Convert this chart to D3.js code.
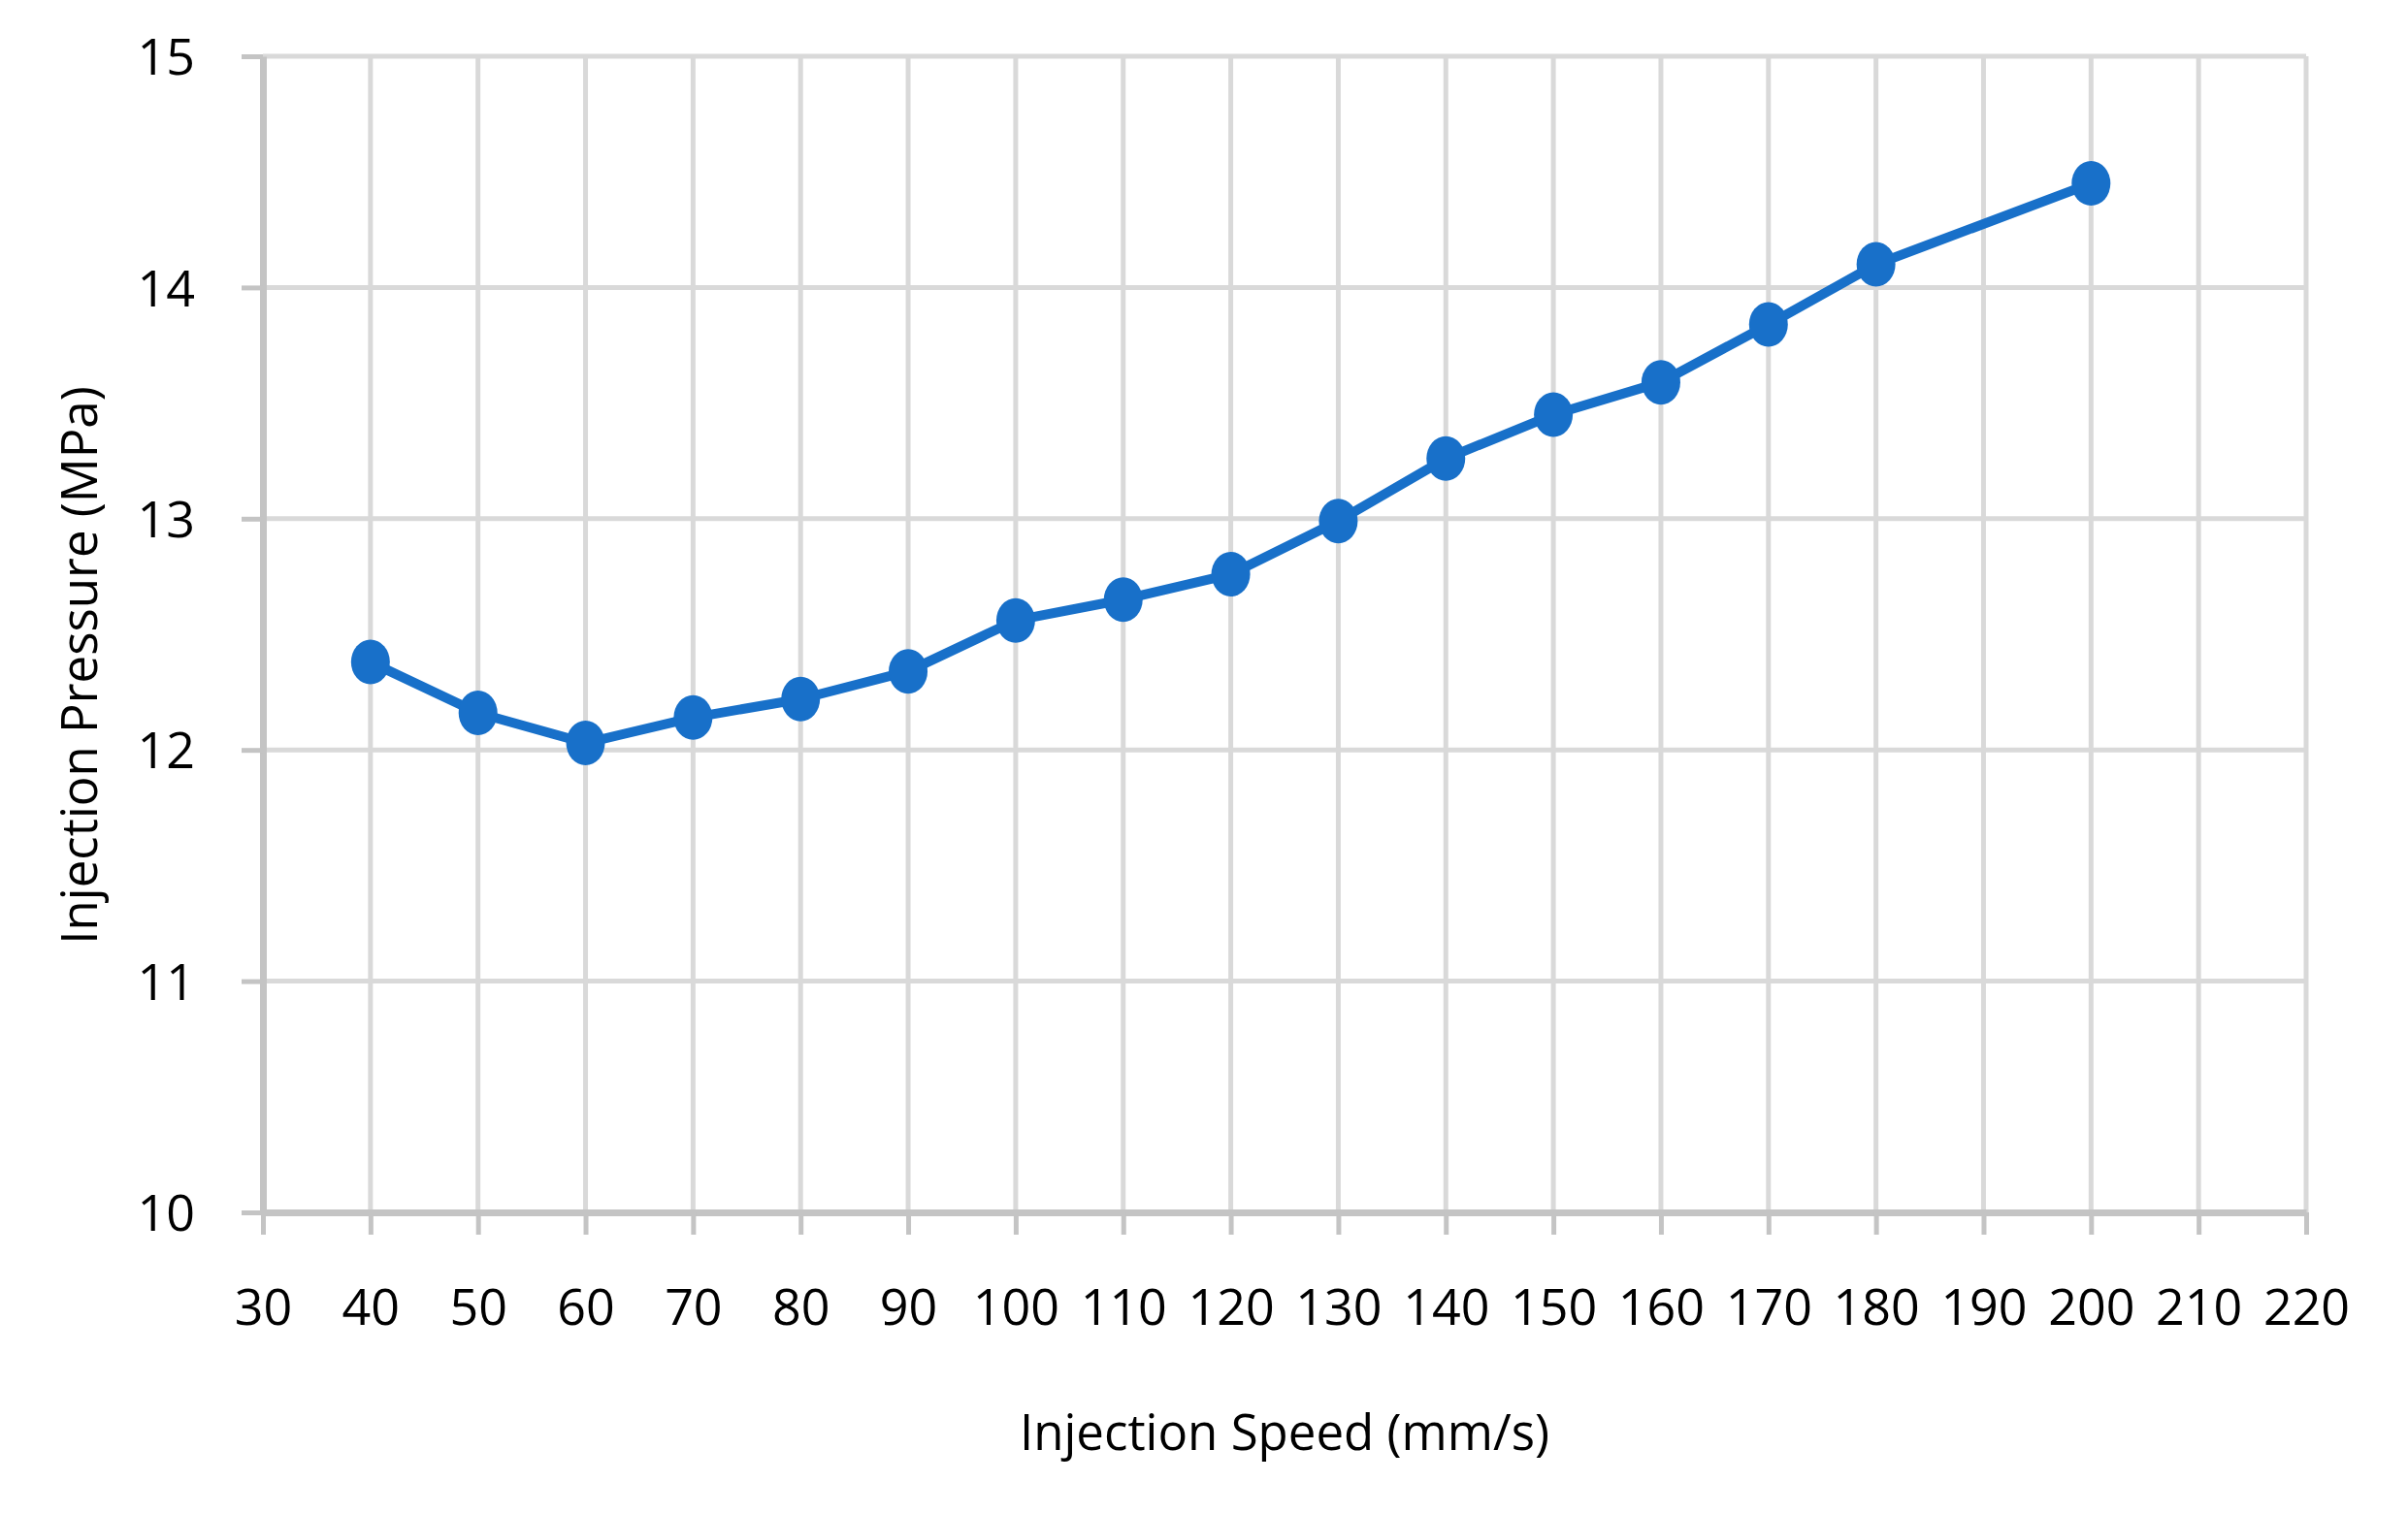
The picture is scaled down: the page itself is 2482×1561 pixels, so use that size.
<!DOCTYPE html>
<html>
<head>
<meta charset="utf-8">
<script src="https://cdn.jsdelivr.net/npm/d3@7"></script>
<style>
  body { margin: 0; background: #fff; }
  text { font-family: "Open Sans", "Noto Sans", sans-serif; fill: #000; }
</style>
</head>
<body>
<div id="chart"></div>
<script>
var svgwidth = 2482;
var svgheight = 1561;
var margin = { top: 58, bottom: 311, right: 105, left: 271 };
var width = svgwidth - margin.left - margin.right;
var height = svgheight - margin.top - margin.bottom;

// data
var speeds = [40, 50, 60, 70, 80, 90, 100, 110, 120, 130, 140, 150, 160, 170, 180, 200];
var pressures = [12.38, 12.16, 12.03, 12.14, 12.22, 12.34, 12.56, 12.65, 12.76, 12.99, 13.26, 13.45, 13.59, 13.84, 14.10, 14.45];
var xTicks = [30, 40, 50, 60, 70, 80, 90, 100, 110, 120, 130, 140, 150, 160, 170, 180, 190, 200, 210, 220];
var yTicks = [10, 11, 12, 13, 14, 15];

var svg = d3.select("#chart").append("svg").attr("width", svgwidth).attr("height", svgheight);
var chartGroup = svg.append("g").attr("transform", "translate(" + margin.left + "," + margin.top + ")");

var xLinear = d3.scaleLinear().domain([30, 220]).range([0, width]);
var yLinear = d3.scaleLinear().domain([10, 15]).range([height, 0]);

// grid
chartGroup.append("g").selectAll("line")
    .data(yTicks.slice(1))
    .enter().append("line")
    .attr("x1", 0).attr("x2", width)
    .attr("y1", d => yLinear(d)).attr("y2", d => yLinear(d))
    .attr("stroke", "#d9d9d9").attr("stroke-width", 5);

chartGroup.append("g").selectAll("line")
    .data(xTicks.slice(1))
    .enter().append("line")
    .attr("x1", d => xLinear(d)).attr("x2", d => xLinear(d))
    .attr("y1", 0).attr("y2", height)
    .attr("stroke", "#d9d9d9").attr("stroke-width", 5);

// axes
var bottomAxis = d3.axisBottom(xLinear).tickValues(xTicks).tickFormat(d3.format("d"))
    .tickSize(23).tickSizeOuter(0).tickPadding(56);
var leftAxis = d3.axisLeft(yLinear).tickValues(yTicks).tickFormat(d3.format("d"))
    .tickSize(22).tickSizeOuter(0).tickPadding(48);

var xg = chartGroup.append("g").attr("transform", "translate(0," + height + ")").call(bottomAxis);
var yg = chartGroup.append("g").call(leftAxis);

[xg, yg].forEach(function(g) {
    g.select(".domain").attr("stroke", "#c4c4c4").attr("stroke-width", 7);
    g.selectAll(".tick line").attr("stroke", "#c4c4c4").attr("stroke-width", 5);
    g.selectAll(".tick text").attr("font-size", 52).attr("fill", "#000")
        .style("font-family", "'Open Sans', 'Noto Sans', sans-serif");
});
xg.selectAll(".tick text").attr("dy", "0.71em");
yg.selectAll(".tick text").attr("dy", "0.36em");

// series
var pts = speeds.map((s, i) => ({ x: s, y: pressures[i] }));
var line = d3.line().x(d => xLinear(d.x)).y(d => yLinear(d.y));

chartGroup.append("path")
    .datum(pts)
    .attr("d", line)
    .attr("fill", "none")
    .attr("stroke", "#1870c9")
    .attr("stroke-width", 10)
    .attr("stroke-linejoin", "round");

chartGroup.selectAll("ellipse")
    .data(pts)
    .enter()
    .append("ellipse")
    .attr("cx", d => xLinear(d.x))
    .attr("cy", d => yLinear(d.y))
    .attr("rx", 20)
    .attr("ry", 23)
    .attr("fill", "#1870c9");

// axis titles
svg.append("text")
    .attr("text-anchor", "middle")
    .attr("x", 1324)
    .attr("y", 1495)
    .attr("font-size", 51)
    .text("Injection Speed (mm/s)");

svg.append("text")
    .attr("text-anchor", "middle")
    .attr("transform", "translate(100,686) rotate(-90)")
    .attr("font-size", 51)
    .text("Injection Pressure (MPa)");
</script>
</body>
</html>
